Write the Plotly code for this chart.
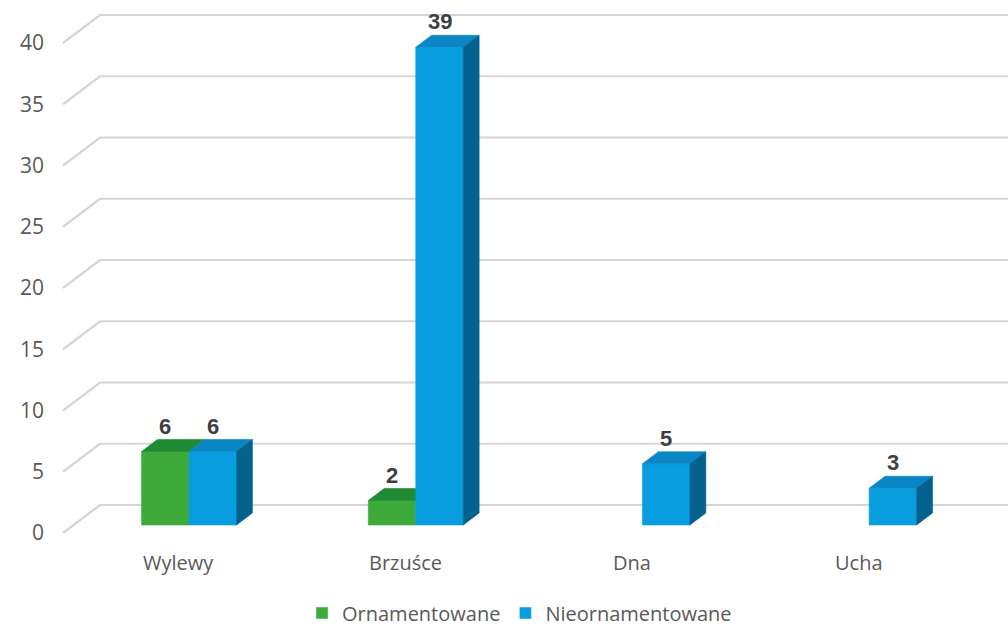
import plotly.graph_objects as go

# ---------------- data ----------------
categories = ["Wylewy", "Brzuśce", "Dna", "Ucha"]
ornamentowane = [6, 2, None, None]
nieornamentowane = [6, 39, 5, 3]
series_names = ["Ornamentowane", "Nieornamentowane"]
y_ticks = [0, 5, 10, 15, 20, 25, 30, 35, 40]

# ---------------- styling / geometry ----------------
W, H = 1008, 630
ML, MR, MT, MB = 45, 0, 0, 40
PX_PER_CAT = 226.7
PX_PER_UNIT = 12.25
CAT0_PX = 178.5          # pixel of first category on the front wall plane
ZERO_PX = 533            # pixel of value 0 on the front wall plane
WALL_PX = 63             # left edge of the floor / front wall
ux = 1.0 / PX_PER_CAT
uy = 1.0 / PX_PER_UNIT
dX = 37 * ux             # depth offset (full depth) in axis units
dY = 28 * uy
D_FRONT = 8 / 28
D_BACK = 20 / 28
BAR_W = 47.5 * ux

x_min = -(CAT0_PX - ML) * ux
x_max = (W - MR - CAT0_PX) * ux
plot_h = H - MT - MB
y_min = -(plot_h + MT - ZERO_PX) * uy
y_max = (ZERO_PX - MT) * uy
wall_x = -(CAT0_PX - WALL_PX) * ux

colors = {
    0: dict(front="#3daa3a", top="#1f8c35", side="#23803a"),
    1: dict(front="#089ddf", top="#0a86c5", side="#05628f"),
}
text_col = "#595959"
grid_col = "#cfd6dc"


def proj(x, v, d):
    return x + d * dX, v + d * dY


fig = go.Figure()

# gridlines with slanted wall part
gx, gy = [], []
for t in y_ticks:
    for (x, v, d) in [(wall_x, t, 0), (wall_x, t, 1)]:
        px, py = proj(x, v, d)
        gx.append(px); gy.append(py)
    gx.append(x_max); gy.append(t + dY)
    gx.append(None); gy.append(None)
fig.add_trace(go.Scatter(x=gx, y=gy, mode="lines", line=dict(color=grid_col, width=2.2),
                         hoverinfo="skip", showlegend=False))

series = [ornamentowane, nieornamentowane]
annotations = []
for s, vals in enumerate(series):
    faces = {"front": ([], []), "top": ([], []), "side": ([], [])}
    for i, val in enumerate(vals):
        if val is None:
            continue
        xl = i + (s - 1) * BAR_W
        xr = xl + BAR_W
        other = series[1 - s][i] if s == 0 else None
        polys = {
            "front": [(xl, 0, D_FRONT), (xr, 0, D_FRONT), (xr, val, D_FRONT), (xl, val, D_FRONT)],
            "top": [(xl, val, D_FRONT), (xr, val, D_FRONT), (xr, val, D_BACK), (xl, val, D_BACK)],
            "side": [(xr, 0, D_FRONT), (xr, 0, D_BACK), (xr, val, D_BACK), (xr, val, D_FRONT)],
        }
        for name, pts in polys.items():
            if name == "side" and s == 0 and other is not None:
                continue
            fx, fy = faces[name]
            for p in pts + [pts[0]]:
                a, b = proj(*p)
                fx.append(a); fy.append(b)
            fx.append(None); fy.append(None)
        cx, _ = proj((xl + xr) / 2, val, D_FRONT)
        _, ty = proj(xl, val, D_BACK)
        annotations.append(dict(x=cx, y=ty, text=str(val), showarrow=False, yanchor="bottom",
                                yshift=-1, font=dict(family="Liberation Sans, Arial", size=22,
                                                     color="#3f3f3f", weight="bold")))
    for name in ["front", "top", "side"]:
        fx, fy = faces[name]
        if not fx:
            continue
        c = colors[s][name]
        fig.add_trace(go.Scatter(x=fx, y=fy, mode="lines", fill="toself", fillcolor=c,
                                 line=dict(color=c, width=0.6), hoverinfo="skip",
                                 showlegend=False))

# legend entries
for s, name in enumerate(series_names):
    fig.add_trace(go.Bar(x=[None], y=[None], name=name, marker_color=colors[s]["front"]))

# category labels on the floor front edge
for i, c in enumerate(categories):
    annotations.append(dict(x=i, y=-29.5 * uy, text=c, showarrow=False, yanchor="middle",
                            font=dict(family="Open Sans", size=20, color=text_col)))

fig.update_layout(
    width=W, height=H,
    margin=dict(l=ML, r=MR, t=MT, b=MB, autoexpand=False),
    paper_bgcolor="white", plot_bgcolor="white",
    xaxis=dict(range=[x_min, x_max], showgrid=False, zeroline=False, showline=False,
               showticklabels=False, fixedrange=True),
    yaxis=dict(range=[y_min, y_max], tickvals=y_ticks, showgrid=False, zeroline=False,
               showline=False, tickfont=dict(family="Open Sans", size=21, color=text_col),
               fixedrange=True),
    legend=dict(orientation="h", x=(302 - ML) / (W - ML - MR), xanchor="left",
                y=(plot_h - 613 + MT) / plot_h, yanchor="middle",
                font=dict(family="Open Sans", size=20, color=text_col)),
    annotations=annotations,
    showlegend=True,
)

fig.write_html("out.html", config={"displayModeBar": False},
               post_script="document.body.style.margin='0';document.body.style.overflow='hidden';")
